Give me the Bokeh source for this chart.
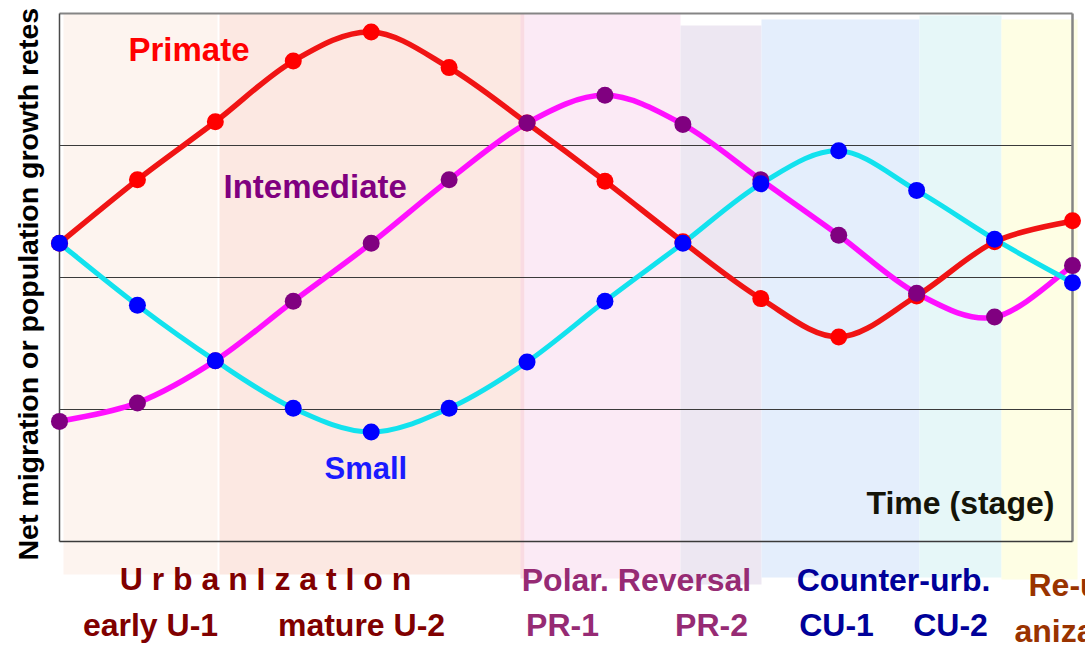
from bokeh.plotting import figure
from bokeh.models import Range1d
from bokeh.core.properties import value
from bokeh.embed import file_html
from bokeh.resources import INLINE
import math

# ---------------- data ----------------
stages = list(range(14))
primate = [2.26, 2.74, 3.18, 3.64, 3.86, 3.59, 3.17, 2.73, 2.27, 1.84, 1.55, 1.86, 2.27, 2.43]
intermediate = [0.91, 1.05, 1.37, 1.82, 2.26, 2.74, 3.17, 3.38, 3.16, 2.74, 2.32, 1.88, 1.70, 2.09]
small = [2.26, 1.79, 1.37, 1.01, 0.83, 1.01, 1.36, 1.82, 2.26, 2.71, 2.96, 2.66, 2.29, 1.96]

series_names = ["Primate", "Intemediate", "Small"]
phase_labels = ["U r b a n I z a t I o n", "Polar. Reversal", "Counter-urb.", "Re-urb-"]
stage_labels = ["early U-1", "mature U-2", "PR-1", "PR-2", "CU-1", "CU-2", "anization"]
y_title = "Net migration or population growth retes"
x_title = "Time (stage)"

# ---------------- layout helpers (picture pixel -> data) ----------------
W, H = 1085, 649
def X(px):
    return (px - 59) / 77.923
def Y(py):
    return (541 - py) / 132.0

p = figure(width=W, height=H, output_backend="svg", toolbar_location=None,
           x_range=Range1d(X(0), X(W)), y_range=Range1d(Y(H), Y(0)),
           x_axis_type=None, y_axis_type=None, min_border=0,
           outline_line_color=None, background_fill_color="white",
           border_fill_color="white")
p.grid.visible = False

FONT = value("Liberation Sans")

# ---------------- background stage bands ----------------
bands = [
    (X(63), X(217), Y(13), Y(574), "#fdf4ef"),
    (X(219), X(524), Y(13), Y(574), "#fce8e2"),
    (X(520), X(524), Y(13), Y(578), "#f9dbe2"),
    (X(524), X(680), Y(13), Y(578), "#fbeaf5"),
    (X(680), X(761), Y(25), Y(584), "#ede7f2"),
    (X(761), X(919), Y(19), Y(577), "#e4eefc"),
    (X(919), X(1001), Y(15), Y(577), "#e6f7f8"),
    (X(1001), X(1077), Y(19), Y(579), "#fefee4"),
]
p.quad(left=[b[0] for b in bands], right=[b[1] for b in bands],
       top=[b[2] for b in bands], bottom=[b[3] for b in bands],
       fill_color=[b[4] for b in bands], line_color=None)

# ---------------- grid lines ----------------
p.segment(x0=[0, 0, 0], x1=[13, 13, 13], y0=[1, 2, 3], y1=[1, 2, 3],
          line_color="#3a3a3a", line_width=1)

# ---------------- frame ----------------
p.line(x=[0, 13], y=[4, 4], line_color="#858585", line_width=2)
p.line(x=[13, 13], y=[0, 4], line_color="#858585", line_width=2.5)
p.line(x=[0, 0], y=[0, 4], line_color="#4a4a4a", line_width=1.5)
p.line(x=[0, 13], y=[0, 0], line_color="#3a3a3a", line_width=1.5)

# ---------------- smoothed curves ----------------
def bezier_parts(xs, ys):
    n = len(xs)
    out = {k: [] for k in ("x0", "y0", "x1", "y1", "cx0", "cy0", "cx1", "cy1")}
    for i in range(n - 1):
        a = max(i - 1, 0)
        d = min(i + 2, n - 1)
        out["x0"].append(xs[i]); out["y0"].append(ys[i])
        out["x1"].append(xs[i + 1]); out["y1"].append(ys[i + 1])
        out["cx0"].append(xs[i] + (xs[i + 1] - xs[a]) / 6.0)
        out["cy0"].append(ys[i] + (ys[i + 1] - ys[a]) / 6.0)
        out["cx1"].append(xs[i + 1] - (xs[d] - xs[i]) / 6.0)
        out["cy1"].append(ys[i + 1] - (ys[d] - ys[i]) / 6.0)
    return out

line_styles = [
    (primate, "#f01414", 5.5),
    (intermediate, "#ff10ff", 5.5),
    (small, "#12e2ee", 5),
]
for ys, col, lw in line_styles:
    p.bezier(**bezier_parts(stages, ys), line_color=col, line_width=lw, line_cap="round")

p.scatter(stages, primate, size=17, fill_color="#ff0000", line_color=None)
p.scatter(stages, intermediate, size=17, fill_color="#800080", line_color=None)
p.scatter(stages, small, size=17, fill_color="#0000ff", line_color=None)

# ---------------- texts ----------------
def txt(x, y, s, color, size, align="left", angle=0.0):
    p.text(x=[x], y=[y], text=[s], text_font=FONT, text_font_style="bold",
           text_font_size=size, text_color=color, text_align=align,
           text_baseline="alphabetic", angle=angle)

txt(X(128), Y(49), series_names[0], "#ff0000", "33px")
txt(X(223), Y(186), series_names[1], "#800080", "33px")
txt(X(324), Y(468), series_names[2], "#1a1aff", "31px")
txt(X(866), Y(502), x_title, "#141408", "32px")

txt(X(27), Y(560), y_title, "#000000", "28.5px", angle=math.pi / 2)

txt(X(265), Y(578), phase_labels[0], "#800000", "32px", "center")
txt(X(636), Y(579), phase_labels[1], "#962b74", "32px", "center")
txt(X(893), Y(579), phase_labels[2], "#000099", "32px", "center")
txt(X(1028), Y(584), phase_labels[3], "#993300", "32px")

txt(X(150), Y(624), stage_labels[0], "#800000", "32px", "center")
txt(X(361), Y(624), stage_labels[1], "#800000", "32px", "center")
txt(X(562), Y(624), stage_labels[2], "#962b74", "32px", "center")
txt(X(711), Y(624), stage_labels[3], "#962b74", "32px", "center")
txt(X(836), Y(624), stage_labels[4], "#000099", "32px", "center")
txt(X(950), Y(624), stage_labels[5], "#000099", "32px", "center")
txt(X(1014), Y(630), stage_labels[6], "#993300", "32px")

open("out.html", "w").write(file_html(p, INLINE))
